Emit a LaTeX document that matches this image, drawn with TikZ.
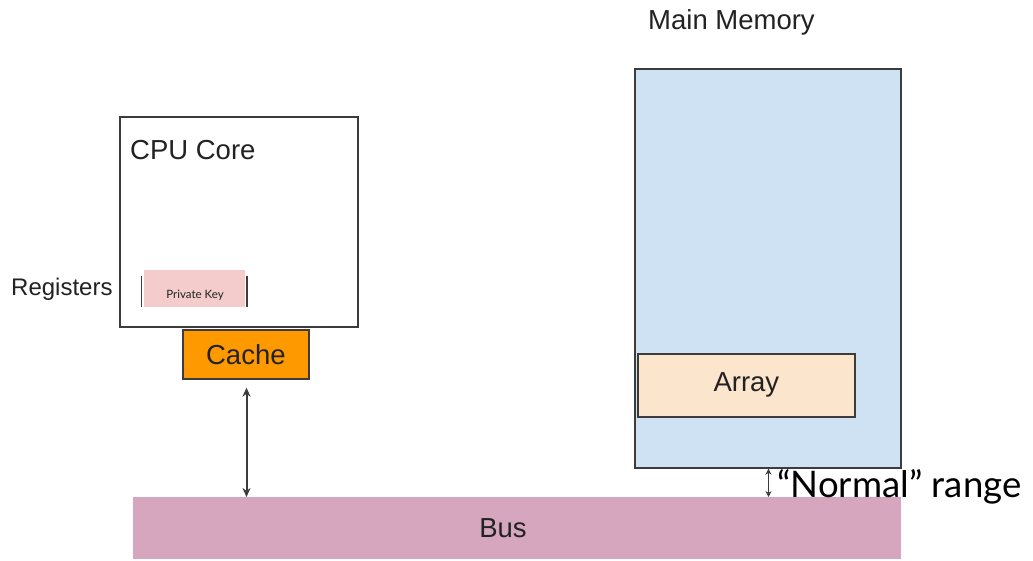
\documentclass[tikz,border=0pt]{standalone}
\usepackage{fontspec}
\setmainfont{Liberation Sans}
\newfontfamily\latofont{Lato}
\usetikzlibrary{arrows.meta}
\definecolor{edge}{HTML}{3C3C3C}
\definecolor{txt}{HTML}{222222}
\definecolor{cacheorange}{HTML}{FF9900}
\definecolor{memblue}{HTML}{CFE2F3}
\definecolor{arrpeach}{HTML}{FCE5CD}
\definecolor{buspink}{HTML}{D5A6BD}
\definecolor{keypink}{HTML}{F4CCCC}
\tikzset{
  box/.style={draw=edge, line width=1.7pt, rectangle, inner sep=0pt, anchor=north west},
  plain/.style={rectangle, inner sep=0pt, anchor=north west},
  lbl/.style={text=txt, inner sep=0pt, font=\fontsize{27.5}{30}\selectfont},
  conn/.style={draw=edge, line width=2pt, {Stealth[length=9pt,width=8pt]}-{Stealth[length=9pt,width=8pt]}},
}
\begin{document}
\begin{tikzpicture}[x=1pt,y=-1pt]
\useasboundingbox[fill=white] (0,0) rectangle (1033,560);
% CPU core
\node[box, fill=white, minimum width=238pt, minimum height=210pt] (cpu) at (119,116) {};
\node[lbl, anchor=west] (cputxt) at (130,150.5) {CPU Core};
% private key register
\node[plain, fill=keypink, minimum width=101pt, minimum height=37pt] (pk) at (144,270) {};
\node[text=txt, inner sep=0pt, font=\latofont\fontsize{11.5}{12}\selectfont] (pktxt) at (195,295) {Private Key};
\draw[edge, line width=1.3pt] ([xshift=-2.5pt,yshift=-6pt]pk.north west) -- ([xshift=-2.5pt]pk.south west);
\draw[edge, line width=1.3pt] ([xshift=1.5pt,yshift=-6pt]pk.north east) -- ([xshift=1.5pt]pk.south east);
\node[lbl, anchor=west, font=\fontsize{24}{26}\selectfont] (reg) at (11,289) {Registers};
% cache
\node[box, fill=cacheorange, minimum width=126pt, minimum height=49pt] (cache) at (182,329) {};
\node[lbl] (cachetxt) at (cache.center) {Cache};
% main memory
\node[lbl, anchor=west] (memtitle) at (648,22.5) {Main Memory};
\node[box, fill=memblue, minimum width=266pt, minimum height=399pt] (mem) at (634,68) {};
\node[box, fill=arrpeach, minimum width=217pt, minimum height=63pt] (arr) at (637,353) {};
\node[lbl] (arrtxt) at (arr.center) {Array};
% bus
\node[plain, fill=buspink, minimum width=768pt, minimum height=62pt] (bus) at (133,497) {};
\node[lbl] (bustxt) at (503,528) {Bus};
% connectors
\coordinate (cx) at (246.5,0);
\draw[conn, shorten <=8pt] (cache.south -| cx) -- (bus.north -| cx);
\coordinate (nx) at (768.5,0);
\draw[draw=edge, line width=1.4pt, {Stealth[length=6pt,width=6pt]}-{Stealth[length=6pt,width=6pt]}] (mem.south -| nx) -- (bus.north -| nx);
\node[text=black, inner sep=0pt, anchor=base west, font=\latofont\fontsize{36.6}{38}\selectfont] (normal) at (777,497) {“Normal” range};
\end{tikzpicture}
\end{document}
